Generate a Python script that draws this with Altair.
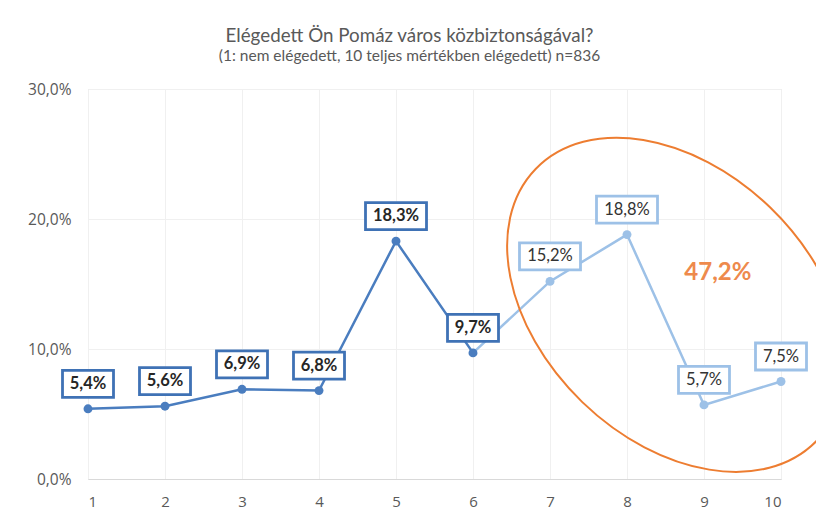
import altair as alt
import pandas as pd

# ---- data ----
categories = [1, 2, 3, 4, 5, 6, 7, 8, 9, 10]
values = [5.4, 5.6, 6.9, 6.8, 18.3, 9.7, 15.2, 18.8, 5.7, 7.5]
groups = ["low", "low", "low", "low", "low", "low", "high", "high", "high", "high"]
y_ticks = [0, 10, 20, 30]
ellipse_x = [8.64]
ellipse_y = [13.4]
total_text = ["47,2%"]
total_x = [9.18]
total_y = [15.85]

title_text = "Elégedett Ön Pomáz város közbiztonságával?"
subtitle_text = "(1: nem elégedett, 10 teljes mértékben elégedett) n=836"

df = pd.DataFrame({"x": categories, "v": values, "g": groups})
df_ell = pd.DataFrame({"x": ellipse_x, "v": ellipse_y})
df_tot = pd.DataFrame({"x": total_x, "v": total_y, "t": total_text})

DARK = "#4a7dbf"
DARK_BOX = "#3f72b5"
LIGHT = "#9dc1e7"
ORANGE = "#ed7d31"
FONT = "Lato"
AXFONT = "Open Sans"

xs = alt.Scale(domain=[1, 10], nice=False, zero=False)
ys = alt.Scale(domain=[0, 30], nice=False)

X = alt.X("x:Q", scale=xs, title=None,
          axis=alt.Axis(values=categories, format="d", grid=True, gridColor="#f0f0f0",
                        domain=True, domainColor="#d9d9d9", ticks=False,
                        labelPadding=15, labelFontSize=15, labelColor="#595959",
                        labelFont=AXFONT))
Y = alt.Y("v:Q", scale=ys, title=None,
          axis=alt.Axis(values=y_ticks, grid=True, gridColor="#f0f0f0", domain=False,
                        ticks=False, labelPadding=17, labelFontSize=15.5,
                        labelColor="#595959", labelFont=AXFONT,
                        labelExpr="replace(format(datum.value, '.1f'), '.', ',') + '%'"))

base = alt.Chart(df)

line_dark = base.mark_line(color=DARK, strokeWidth=2.5).encode(x=X, y=Y).transform_filter("datum.x <= 6")
line_light = base.mark_line(color=LIGHT, strokeWidth=2.5).encode(x="x:Q", y="v:Q").transform_filter("datum.x >= 6")

pts = base.mark_point(filled=True, size=80, opacity=1).encode(
    x="x:Q", y="v:Q",
    color=alt.Color("g:N", scale=alt.Scale(domain=["low", "high"], range=[DARK, LIGHT]), legend=None),
)

lab = base.transform_calculate(lab="replace(format(datum.v, '.1f'), '.', ',') + '%'")

stroke_enc = alt.Stroke("g:N", scale=alt.Scale(domain=["low", "high"], range=[DARK_BOX, LIGHT]), legend=None)

box4 = lab.transform_filter("length(datum.lab) <= 4").mark_point(
    shape="M -1 -0.53 L 1 -0.53 L 1 0.53 L -1 0.53 Z", size=2601, fill="white",
    fillOpacity=1, opacity=1, strokeWidth=2.8, yOffset=-25
).encode(x="x:Q", y="v:Q", stroke=stroke_enc)

box5 = lab.transform_filter("length(datum.lab) > 4").mark_point(
    shape="M -1 -0.443 L 1 -0.443 L 1 0.443 L -1 0.443 Z", size=3721, fill="white",
    fillOpacity=1, opacity=1, strokeWidth=2.8, yOffset=-25
).encode(x="x:Q", y="v:Q", stroke=stroke_enc)

txt_low = lab.transform_filter("datum.g == 'low'").mark_text(
    font=FONT, fontSize=16.5, fontWeight="bold", color="#262626", baseline="middle",
    align="center", yOffset=-25
).encode(x="x:Q", y="v:Q", text="lab:N")

txt_high = lab.transform_filter("datum.g == 'high'").mark_text(
    font=FONT, fontSize=16.5, fontWeight="normal", color="#333333", baseline="middle",
    align="center", yOffset=-25
).encode(x="x:Q", y="v:Q", text="lab:N")

ellipse_path = ("M -1 0 C -1 -0.382 -0.552 -0.692 0 -0.692 C 0.552 -0.692 1 -0.382 1 0 "
                "C 1 0.382 0.552 0.692 0 0.692 C -0.552 0.692 -1 0.382 -1 0 Z")
ellipse = alt.Chart(df_ell).mark_point(
    shape=ellipse_path, size=391 * 391, angle=44, filled=False, stroke=ORANGE,
    strokeWidth=2, opacity=1, fill="transparent"
).encode(x="x:Q", y="v:Q")

total = alt.Chart(df_tot).mark_text(
    font=FONT, fontSize=24, fontWeight="bold", color="#ee8a4c", align="center", baseline="middle"
).encode(x="x:Q", y="v:Q", text="t:N")

chart = alt.layer(line_dark, line_light, pts, ellipse, total, box4, box5, txt_low, txt_high).properties(
    width=693, height=390,
    title=alt.TitleParams(text=title_text, subtitle=subtitle_text, anchor="middle", dx=-25,
                          fontSize=18.8, fontWeight="normal", font=FONT, color="#595959",
                          subtitleFontSize=15.5, subtitleFont=FONT, subtitleColor="#595959",
                          subtitlePadding=3, offset=18),
    autosize=alt.AutoSizeParams(type="none"),
    padding={"left": 80, "top": 81, "right": 35, "bottom": 30},
).configure_view(stroke=None).configure(background="white")

chart.save("out.html", embed_options={"renderer": "svg", "actions": False})
